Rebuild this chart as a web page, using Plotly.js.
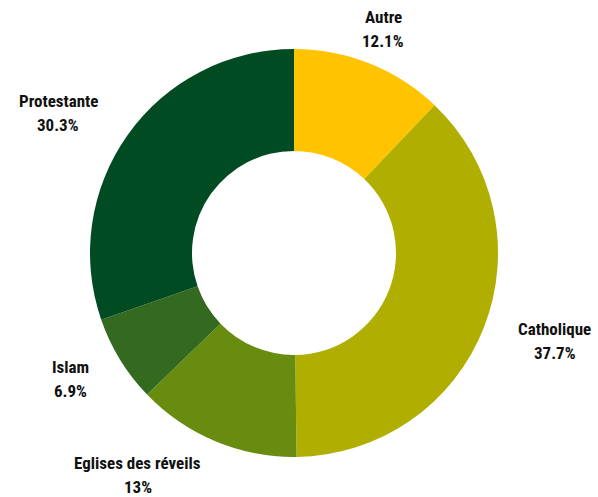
<!DOCTYPE html>
<html><head><meta charset="utf-8">
<script src="https://cdn.plot.ly/plotly-3.0.1.min.js"></script>
<style>html,body{margin:0;padding:0;background:#fff}</style>
</head><body><div id="chart" style="width:598px;height:497px"></div>
<script>
const categories = ["Autre", "Catholique", "Eglises des réveils", "Islam", "Protestante"];
const values = [12.1, 37.7, 13, 6.9, 30.3];
const colors = ["#FFC300", "#B0AE00", "#678C10", "#336A20", "#004B22"];

const labelFont = {family: 'Roboto Condensed', size: 17, weight: 'bold', color: '#111'};
const labelDist = 1.18;   // label anchor distance, in pie radii
const ctx = document.createElement('canvas').getContext('2d');
ctx.font = 'bold 17px "Roboto Condensed"';
const textW = t => ctx.measureText(t).width;

const total = values.reduce((a, b) => a + b, 0);
const annotations = [];
let cum = 0;
values.forEach((v, i) => {
  const mid = (cum + v / 2) / total * 2 * Math.PI;
  cum += v;
  const ux = Math.sin(mid), uy = Math.cos(mid);
  const x = 0.5 + 0.5 * labelDist * ux;
  const y = 0.5 + 0.5 * labelDist * uy;
  const name = categories[i], val = String(v) + '%';
  const w = Math.max(textW(name), textW(val));
  const xs = ux > 0.38 ? w / 2 : (ux < -0.38 ? -w / 2 : 0);
  [[name, 12], [val, -12]].forEach(([t, s]) => {
    annotations.push({
      xref: 'paper', yref: 'paper', x: x, y: y, text: t,
      xanchor: 'center', yanchor: 'middle', xshift: xs, yshift: s, align: 'center',
      showarrow: false, font: labelFont
    });
  });
});

Plotly.newPlot('chart', [{
  type: 'pie',
  labels: categories,
  values: values,
  hole: 0.5,
  sort: false,
  direction: 'clockwise',
  rotation: 0,
  marker: {colors: colors, line: {width: 0}},
  textinfo: 'none',
  hoverinfo: 'none',
  showlegend: false,
  domain: {x: [0, 1], y: [0, 1]}
}], {
  width: 598, height: 497,
  margin: {l: 90, r: 100, t: 49, b: 40},
  paper_bgcolor: '#fff',
  showlegend: false,
  annotations: annotations
}, {displayModeBar: false, staticPlot: true});
</script></body></html>
